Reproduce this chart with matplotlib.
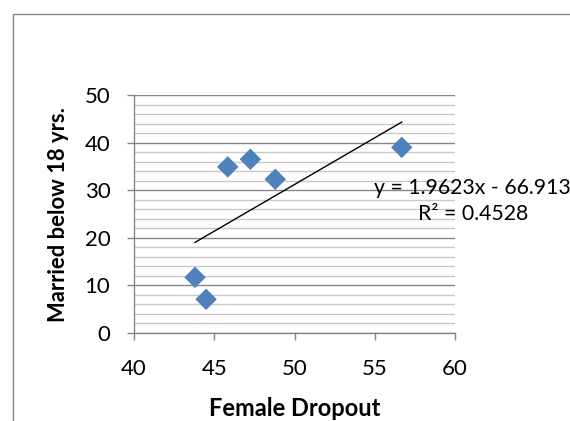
import numpy as np
import matplotlib.pyplot as plt
from matplotlib.patches import Rectangle
from matplotlib.ticker import MultipleLocator

plt.rcParams['font.family'] = ['Lato', 'DejaVu Sans']

# Female dropout vs. married below 18 years
female_dropout = [45.84, 47.25, 48.80, 56.68, 43.80, 44.49]
married_below_18 = [34.9, 36.5, 32.3, 39.0, 11.7, 7.08]

# Linear trendline as reported
slope, intercept = 1.9623, -66.913
r_squared = 0.4528

grid_major = '#868686'
grid_minor = '#c8c8c8'

fig = plt.figure(figsize=(5.70, 4.21), dpi=100)
ax = fig.add_axes([0.2351, 0.2090, 0.5632, 0.5653])

# chart area border (runs off the right and bottom edges)
fig.patches.append(Rectangle((0.0228, -0.2), 1.5, 0.9667 + 0.2, transform=fig.transFigure,
                             fill=False, edgecolor=grid_major, linewidth=1.0))

ax.set_xlim(40, 60)
ax.set_ylim(0, 50)
ax.xaxis.set_major_locator(MultipleLocator(5))
ax.yaxis.set_major_locator(MultipleLocator(10))
ax.yaxis.set_minor_locator(MultipleLocator(2))

ax.grid(axis='y', which='minor', color=grid_minor, linewidth=1.0, zorder=0)
ax.grid(axis='y', which='major', color=grid_major, linewidth=1.0, zorder=0)
ax.set_axisbelow(True)

for side in ['top', 'right']:
    ax.spines[side].set_visible(False)
for side in ['left', 'bottom']:
    ax.spines[side].set_color(grid_major)
    ax.spines[side].set_linewidth(1.0)

ax.tick_params(axis='both', which='major', direction='out', length=5, width=1.0,
               color=grid_major, labelsize=16, labelcolor='black')
ax.tick_params(axis='y', which='major', pad=12)
ax.tick_params(axis='x', which='major', pad=14)
ax.tick_params(axis='y', which='minor', length=0)

ax.scatter(female_dropout, married_below_18, marker='D', s=120, color='#4F81BD',
           edgecolors='none', zorder=3, clip_on=False)

x_fit = np.array([min(female_dropout), max(female_dropout)])
ax.plot(x_fit, slope * x_fit + intercept, color='black', linewidth=1.0, zorder=2)

ax.text(1.055, 0.555, 'y = %.4fx - %.3f\nR² = %.4f' % (slope, -intercept, r_squared),
        transform=ax.transAxes, ha='center', va='center', fontsize=15.3,
        linespacing=1.4, clip_on=False, zorder=4)

ax.set_xlabel('Female Dropout', fontsize=17, fontweight='bold', labelpad=13)
ax.set_ylabel('Married below 18 yrs.', fontsize=15.8, fontweight='bold', labelpad=11)

fig.savefig('out.png', dpi=100)
